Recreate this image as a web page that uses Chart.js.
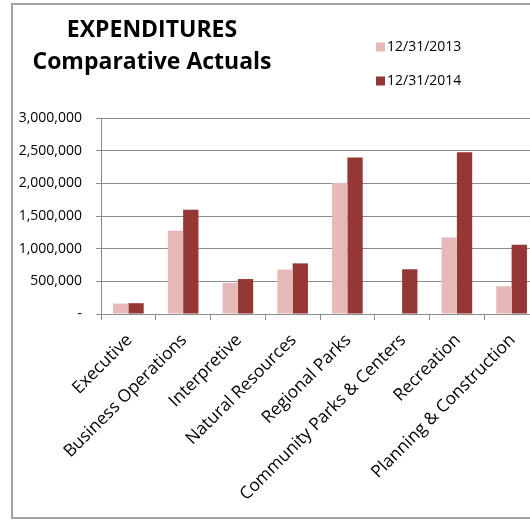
<!DOCTYPE html>
<html>
<head>
<meta charset="utf-8">
<script src="https://cdn.jsdelivr.net/npm/chart.js@4"></script>
<style>
  html, body { margin: 0; padding: 0; background: #ffffff; overflow: hidden; }
  #wrap { position: absolute; left: 0; top: 0; width: 540px; height: 521px; }
</style>
</head>
<body>
<div id="wrap"><canvas id="c"></canvas></div>
<script>
const titleLines = ['EXPENDITURES', 'Comparative Actuals'];
const categories = ['Executive', 'Business Operations', 'Interpretive', 'Natural Resources', 'Regional Parks', 'Community Parks & Centers', 'Recreation', 'Planning & Construction'];
const seriesNames = ['12/31/2013', '12/31/2014'];
const actuals2013 = [160000, 1275000, 475000, 680000, 2005000, 0, 1170000, 425000];
const actuals2014 = [165000, 1595000, 535000, 775000, 2395000, 685000, 2475000, 1060000];
const seriesColors = ['#E6B9B8', '#953735'];
const yMax = 3000000;
const yStep = 500000;

const FONT = "'Open Sans', 'Noto Sans', sans-serif";

const framePlugin = {
  id: 'frame',
  beforeDraw(chart) {
    const ctx = chart.ctx;
    ctx.save();
    ctx.strokeStyle = '#a3a3a3';
    ctx.lineWidth = 2;
    ctx.strokeRect(12, 4, 600, 514);
    ctx.restore();
  },
  afterDraw(chart) {
    const ctx = chart.ctx;
    ctx.save();
    // Title
    ctx.fillStyle = '#000000';
    ctx.font = "bold 23px " + FONT;
    ctx.textAlign = 'center';
    ctx.textBaseline = 'alphabetic';
    ctx.fillText(titleLines[0], 152, 37);
    ctx.fillText(titleLines[1], 152, 69);
    // Legend
    const rows = [47, 81];
    ctx.font = "14px " + FONT;
    ctx.textAlign = 'left';
    ctx.textBaseline = 'middle';
    chart.data.datasets.forEach((ds, i) => {
      ctx.fillStyle = ds.backgroundColor;
      ctx.fillRect(376, rows[i] - 4.5, 9, 9);
      ctx.fillStyle = '#000000';
      ctx.fillText(ds.label, 387, rows[i]);
    });
    ctx.restore();
  }
};

new Chart(document.getElementById('c'), {
  type: 'bar',
  data: {
    labels: categories,
    datasets: [
      { label: seriesNames[0], data: actuals2013, backgroundColor: seriesColors[0] },
      { label: seriesNames[1], data: actuals2014, backgroundColor: seriesColors[1] }
    ]
  },
  options: {
    responsive: true,
    maintainAspectRatio: false,
    animation: false,
    devicePixelRatio: 1,
    layout: { padding: { top: 118, right: 1, bottom: 0, left: 0 } },
    datasets: { bar: { barPercentage: 1.0, categoryPercentage: 0.56 } },
    plugins: {
      legend: { display: false },
      title: { display: false },
      tooltip: { enabled: false }
    },
    scales: {
      x: {
        offset: true,
        grid: { display: true, drawOnChartArea: false, drawTicks: true, tickLength: 6, color: '#8c8c8c', offset: true },
        border: { display: true, color: '#8c8c8c', width: 1 },
        ticks: {
          autoSkip: false, maxRotation: 45, minRotation: 45, padding: 10, labelOffset: 1,
          color: '#000000', font: { family: FONT, size: 17.3 }
        },
        afterFit(scale) { scale.height = 207; }
      },
      y: {
        min: 0, max: yMax,
        grid: { color: '#8c8c8c', lineWidth: 1, tickLength: 5 },
        border: { display: true, color: '#8c8c8c', width: 1 },
        ticks: {
          stepSize: yStep, padding: 14, color: '#000000',
          font: { family: FONT, size: 14 },
          callback: (v) => v === 0 ? '-' : Number(v).toLocaleString('en-US')
        },
        afterFit(scale) { scale.width = 101; }
      }
    }
  },
  plugins: [framePlugin]
});
</script>
</body>
</html>
